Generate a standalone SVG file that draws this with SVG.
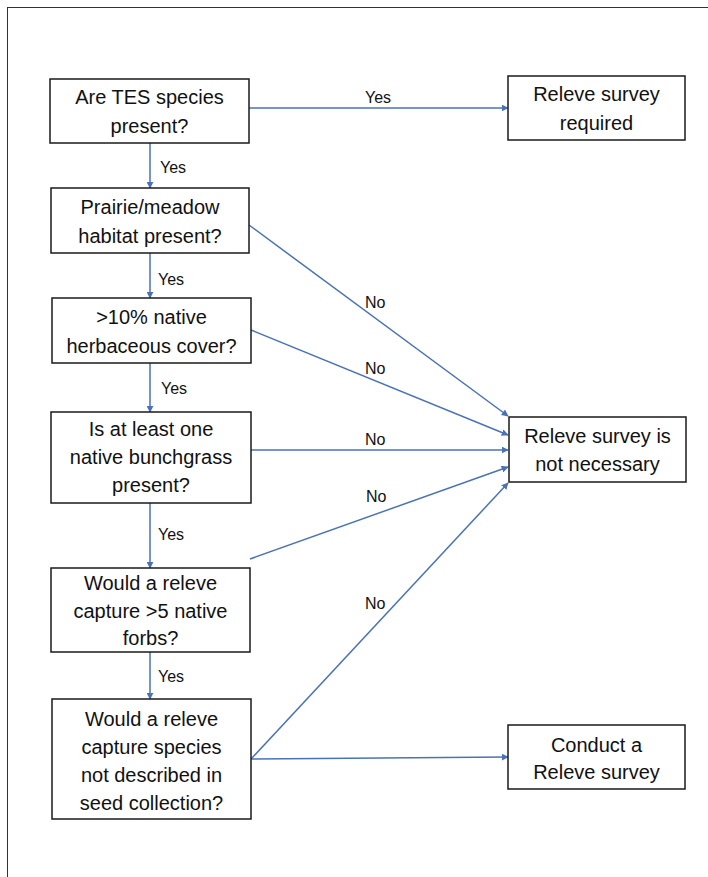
<svg xmlns="http://www.w3.org/2000/svg" width="708" height="877" viewBox="0 0 708 877">
<style>
.box{fill:#fff;stroke:#1a1a1a;stroke-width:1.5}
.t{font-family:"Liberation Sans",Arial,sans-serif;font-size:20px;fill:#111;text-anchor:middle}
.l{font-family:"Liberation Sans",Arial,sans-serif;font-size:16px;fill:#111}
.c{stroke:#4a72b8;stroke-width:1.5;fill:none;marker-end:url(#ah)}
</style>
<defs>
<marker id="ah" viewBox="0 0 10 10" refX="9" refY="5" markerWidth="7" markerHeight="7" markerUnits="userSpaceOnUse" orient="auto">
<path d="M0,0 L10,5 L0,10 z" fill="#4a72b8"/>
</marker>
</defs>
<rect x="0" y="0" width="708" height="877" fill="#fff"/>
<rect x="7.5" y="7.5" width="720" height="900" fill="none" stroke="#333" stroke-width="1"/>
<g id="connectors">
<line class="c" x1="249" y1="108" x2="508" y2="108"/>
<line class="c" x1="150" y1="143" x2="150" y2="188"/>
<line class="c" x1="150" y1="253" x2="150" y2="298"/>
<line class="c" x1="150" y1="363" x2="150" y2="412"/>
<line class="c" x1="150" y1="503" x2="150" y2="568"/>
<line class="c" x1="150" y1="652" x2="150" y2="699"/>
<line class="c" x1="249" y1="225" x2="508" y2="416"/>
<line class="c" x1="251" y1="330" x2="508" y2="435"/>
<line class="c" x1="251" y1="450" x2="508" y2="450"/>
<line class="c" x1="250" y1="559" x2="508" y2="467"/>
<line class="c" x1="251" y1="759" x2="508" y2="483"/>
<line class="c" x1="251" y1="759" x2="508" y2="757"/>
<text class="l" x="365" y="103">Yes</text>
<text class="l" x="160" y="173">Yes</text>
<text class="l" x="158" y="285">Yes</text>
<text class="l" x="161" y="394">Yes</text>
<text class="l" x="158" y="540">Yes</text>
<text class="l" x="158" y="682">Yes</text>
<text class="l" x="365" y="308">No</text>
<text class="l" x="365" y="374">No</text>
<text class="l" x="365" y="445">No</text>
<text class="l" x="366" y="502">No</text>
<text class="l" x="365" y="609">No</text>
</g>
<g id="n1">
<rect class="box" x="50" y="79" width="199" height="64"/>
<text class="t" x="149.5" y="104">Are TES species</text>
<text class="t" x="149.5" y="133">present?</text>
</g>
<g id="n2">
<rect class="box" x="51" y="188" width="198" height="65"/>
<text class="t" x="150" y="214">Prairie/meadow</text>
<text class="t" x="150" y="243">habitat present?</text>
</g>
<g id="n3">
<rect class="box" x="52" y="298" width="199" height="65"/>
<text class="t" x="151.5" y="324">&gt;10% native</text>
<text class="t" x="151.5" y="353">herbaceous cover?</text>
</g>
<g id="n4">
<rect class="box" x="51" y="412" width="200" height="91"/>
<text class="t" x="151" y="436">Is at least one</text>
<text class="t" x="151" y="464">native bunchgrass</text>
<text class="t" x="151" y="492">present?</text>
</g>
<g id="n5">
<rect class="box" x="51" y="568" width="199" height="84"/>
<text class="t" x="150.5" y="590">Would a releve</text>
<text class="t" x="150.5" y="618">capture &gt;5 native</text>
<text class="t" x="150.5" y="645">forbs?</text>
</g>
<g id="n6">
<rect class="box" x="52" y="699" width="199" height="120"/>
<text class="t" x="151.5" y="726">Would a releve</text>
<text class="t" x="151.5" y="754">capture species</text>
<text class="t" x="151.5" y="782">not described in</text>
<text class="t" x="151.5" y="810">seed collection?</text>
</g>
<g id="r1">
<rect class="box" x="508" y="76" width="177" height="64"/>
<text class="t" x="596.5" y="101">Releve survey</text>
<text class="t" x="596.5" y="130">required</text>
</g>
<g id="r2">
<rect class="box" x="509" y="417" width="177" height="65"/>
<text class="t" x="597.5" y="443">Releve survey is</text>
<text class="t" x="597.5" y="471">not necessary</text>
</g>
<g id="r3">
<rect class="box" x="508" y="725" width="177" height="64"/>
<text class="t" x="596.5" y="752">Conduct a</text>
<text class="t" x="596.5" y="779">Releve survey</text>
</g>
</svg>
